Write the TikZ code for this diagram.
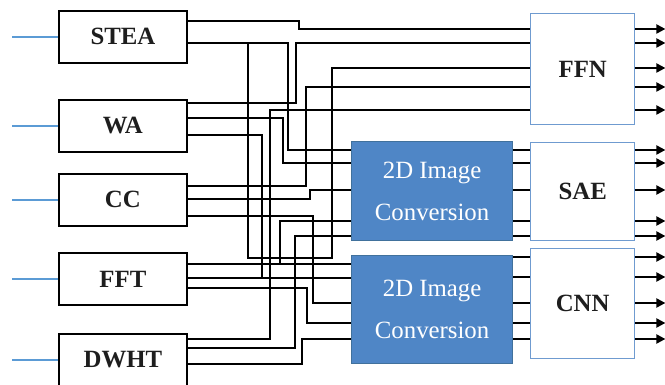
\documentclass[tikz,border=0pt]{standalone}
\usepackage{fontspec}
\setmainfont{Liberation Serif}
\usetikzlibrary{arrows.meta}
\definecolor{convblue}{HTML}{4F86C6}
\definecolor{convedge}{HTML}{41719C}
\definecolor{netedge}{HTML}{6F9BD0}
\definecolor{feedblue}{HTML}{5B9BD5}
\definecolor{textgray}{HTML}{1E1E1E}

\begin{document}
\begin{tikzpicture}[
  x=0.5pt, y=-0.5pt,
  src/.style={
    draw=black, line width=0.9pt, fill=white, anchor=north west,
    minimum width=64pt, minimum height=26pt, inner sep=0pt,
    font=\fontsize{12.4}{15}\selectfont\bfseries, text=textgray
  },
  net/.style={
    draw=netedge, line width=0.7pt, fill=white, anchor=north west,
    minimum width=52pt, inner sep=0pt,
    font=\fontsize{12.4}{15}\selectfont\bfseries, text=textgray
  },
  conv/.style={
    draw=convedge, line width=0.6pt, fill=convblue, anchor=north west,
    minimum width=80.5pt, inner sep=0pt, text=white, align=center,
    font=\fontsize{12.4}{21}\selectfont
  },
  wire/.style={line width=1pt, black},
  outarr/.style={wire, -{Triangle[length=4.5pt,width=4.5pt]}},
  feed/.style={line width=0.8pt, feedblue}
]
  \useasboundingbox (0,0) rectangle (665,385);

  % feature extractors
  \node[src] (stea) at (58,10) {STEA};
  \node[src] (wa) at (58,99) {WA};
  \node[src] (cc) at (58,173) {CC};
  \node[src] (fft) at (58,252) {FFT};
  \node[src] (dwht) at (58,333) {DWHT};

  % networks and image conversion
  \node[net, minimum height=55.5pt] (ffn) at (530,13) {FFN};
  \node[net, minimum height=49pt] (sae) at (530,142) {SAE};
  \node[net, minimum height=55pt] (cnn) at (530,248) {CNN};
  \node[conv, minimum height=49.5pt] (conva) at (351,141) {2D Image\\Conversion};
  \node[conv, minimum height=54pt] (convb) at (351,255) {2D Image\\Conversion};

  % input signals
  \foreach \src in {stea,wa,cc,fft,dwht}
    \draw[feed] (\src.west) -- ++(-46,0);

  % STEA
  \draw[wire] (stea.east |- 0,21) -| (299,29) -- (ffn.west |- 0,29);
  \draw[wire] (stea.east |- 0,43) -| (288,150) -- (conva.west |- 0,150);
  \coordinate (tap) at (248,43);
  \draw[wire] (tap) |- (332,258) |- (ffn.west |- 0,68);
  % WA
  \draw[wire] (wa.east |- 0,103) -| (296,43) -- (ffn.west |- 0,43);
  \draw[wire] (wa.east |- 0,118) -| (283,163) -- (conva.west |- 0,163);
  \draw[wire] (wa.east |- 0,135) -| (262,278);
  % CC
  \draw[wire] (cc.east |- 0,186) -| (306,87) -- (ffn.west |- 0,87);
  \draw[wire] (cc.east |- 0,199) -| (310,190) -- (conva.west |- 0,190);
  \draw[wire] (cc.east |- 0,216) -| (313,303) -- (convb.west |- 0,303);
  % FFT
  \draw[wire] (fft.east |- 0,264) -- (convb.west |- 0,264);
  \coordinate (tapb) at (280,264);
  \draw[wire] (tapb) |- (conva.west |- 0,221);
  \draw[wire] (fft.east |- 0,278) -- (convb.west |- 0,278);
  \draw[wire] (fft.east |- 0,288) -| (307,323) -- (convb.west |- 0,323);
  % DWHT
  \draw[wire] (dwht.east |- 0,339) -| (270,110) -- (ffn.west |- 0,110);
  \draw[wire] (dwht.east |- 0,348) -| (295,236) -- (conva.west |- 0,236);
  \draw[wire] (dwht.east |- 0,364) -| (302,339) -- (convb.west |- 0,339);

  % conversion to networks, network outputs
  \foreach \y in {29,43,68,87,110}
    \draw[outarr] (ffn.east |- 0,\y) -- ++(30,0);
  \foreach \y in {150,163,190,221,236} {
    \draw[wire] (conva.east |- 0,\y) -- (sae.west |- 0,\y);
    \draw[outarr] (sae.east |- 0,\y) -- ++(30,0);
  }
  \foreach \y in {257,277,303,323,339} {
    \draw[wire] (convb.east |- 0,\y) -- (cnn.west |- 0,\y);
    \draw[outarr] (cnn.east |- 0,\y) -- ++(30,0);
  }
\end{tikzpicture}
\end{document}
